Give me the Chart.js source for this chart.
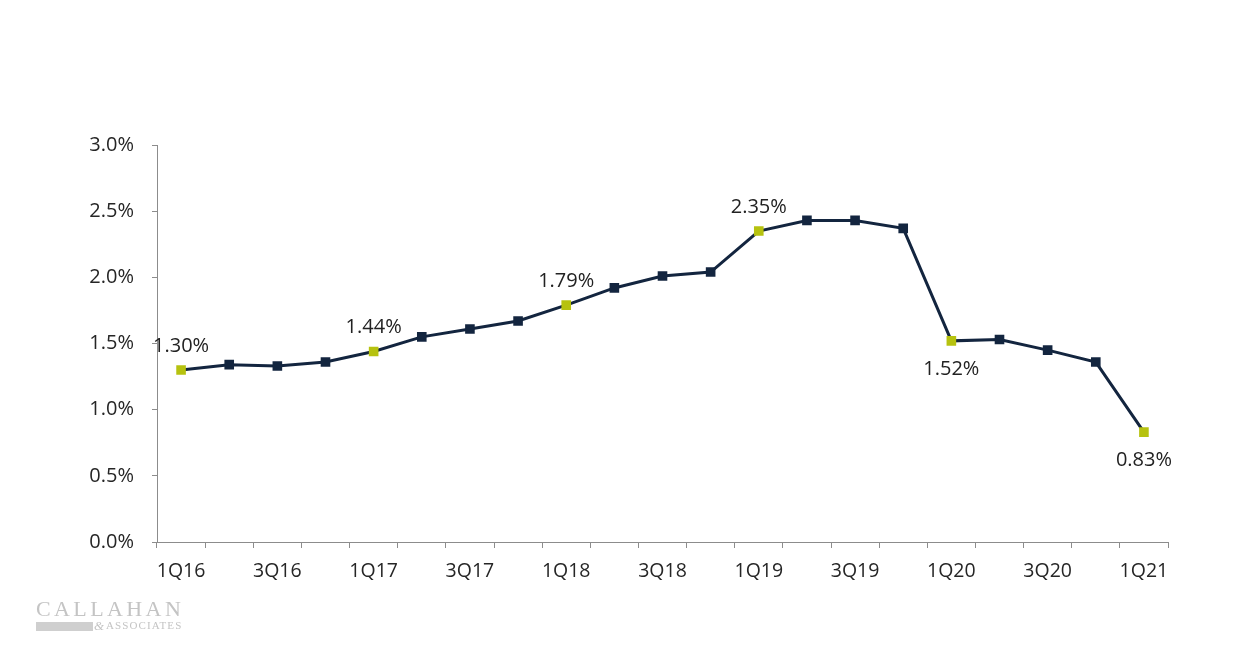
<!DOCTYPE html>
<html>
<head>
<meta charset="utf-8">
<script src="https://cdn.jsdelivr.net/npm/chart.js@4.4.1/dist/chart.umd.min.js"></script>
<style>
  html, body { margin: 0; padding: 0; background: #fff; }
  #wrap { position: relative; width: 1241px; height: 651px; }
  #logo { position: absolute; left: 36px; top: 596px; color: #c4c4c4; font-family: "Liberation Serif", "DejaVu Serif", serif; }
  #logo .name { font-size: 22px; letter-spacing: 3.4px; line-height: 26px; }
  #logo .bar { position: absolute; left: 0; top: 26px; width: 57px; height: 9px; background: #cfcfcf; }
  #logo .amp { position: absolute; left: 58px; top: 22px; font-size: 13px; font-style: italic; }
  #logo .assoc { position: absolute; left: 70px; top: 23px; font-size: 11px; letter-spacing: 1.1px; white-space: nowrap; }
</style>
</head>
<body>
<div id="wrap">
  <canvas id="chart" width="1241" height="651"></canvas>
  <div id="logo">
    <div class="name">CALLAHAN</div>
    <div class="bar"></div>
    <div class="amp">&amp;</div>
    <div class="assoc">ASSOCIATES</div>
  </div>
</div>
<script>
const quarters = ['1Q16','2Q16','3Q16','4Q16','1Q17','2Q17','3Q17','4Q17','1Q18','2Q18','3Q18','4Q18',
                  '1Q19','2Q19','3Q19','4Q19','1Q20','2Q20','3Q20','4Q20','1Q21'];
const values = [1.30, 1.34, 1.33, 1.36, 1.44, 1.55, 1.61, 1.67, 1.79, 1.92, 2.01, 2.04,
                2.35, 2.43, 2.43, 2.37, 1.52, 1.53, 1.45, 1.36, 0.83];
const highlighted = ['1Q16','1Q17','1Q18','1Q19','1Q20','1Q21'];
const labelsBelow = ['1Q20','1Q21'];
const yTicks = [0, 0.5, 1.0, 1.5, 2.0, 2.5, 3.0];

const navy = '#13253f';
const lime = '#b6c20f';

const pointLabels = {
  id: 'pointLabels',
  afterDatasetsDraw(chart) {
    const ctx = chart.ctx;
    const meta = chart.getDatasetMeta(0);
    ctx.save();
    ctx.font = '20px "Open Sans"';
    ctx.fillStyle = '#222';
    ctx.textAlign = 'center';
    ctx.textBaseline = 'middle';
    quarters.forEach((q, i) => {
      if (!highlighted.includes(q)) return;
      const pt = meta.data[i];
      const dy = labelsBelow.includes(q) ? 28 : -24;
      ctx.fillText(values[i].toFixed(2) + '%', pt.x, pt.y + dy);
    });
    ctx.restore();
  }
};

new Chart(document.getElementById('chart'), {
  type: 'line',
  data: {
    labels: quarters,
    datasets: [{
      data: values,
      borderColor: navy,
      borderWidth: 3,
      tension: 0,
      pointStyle: 'rect',
      pointRadius: 6.8,
      pointBorderWidth: 0,
      pointBackgroundColor: quarters.map(q => highlighted.includes(q) ? lime : navy)
    }]
  },
  options: {
    responsive: false,
    animation: false,
    layout: { padding: { left: 0, right: 73, top: 145, bottom: 0 } },
    plugins: { legend: { display: false }, tooltip: { enabled: false } },
    scales: {
      x: {
        offset: true,
        afterFit: s => { s.height = 109; },
        border: { color: '#8c8c8c', width: 1 },
        grid: { offset: true, drawOnChartArea: false, color: '#8c8c8c', tickLength: 6 },
        ticks: {
          autoSkip: false, maxRotation: 0, padding: 12,
          color: '#262626', font: { family: 'Open Sans', size: 19.5 },
          callback: (v, i) => i % 2 === 0 ? quarters[i] : ''
        }
      },
      y: {
        min: 0, max: 3,
        afterFit: s => { s.width = 157; },
        afterBuildTicks: s => { s.ticks = yTicks.map(v => ({ value: v })); },
        border: { color: '#8c8c8c', width: 1 },
        grid: { drawOnChartArea: false, color: '#8c8c8c', tickLength: 5 },
        ticks: {
          padding: 18,
          color: '#262626', font: { family: 'Open Sans', size: 20 },
          callback: v => v.toFixed(1) + '%'
        }
      }
    }
  },
  plugins: [pointLabels]
});
</script>
</body>
</html>
